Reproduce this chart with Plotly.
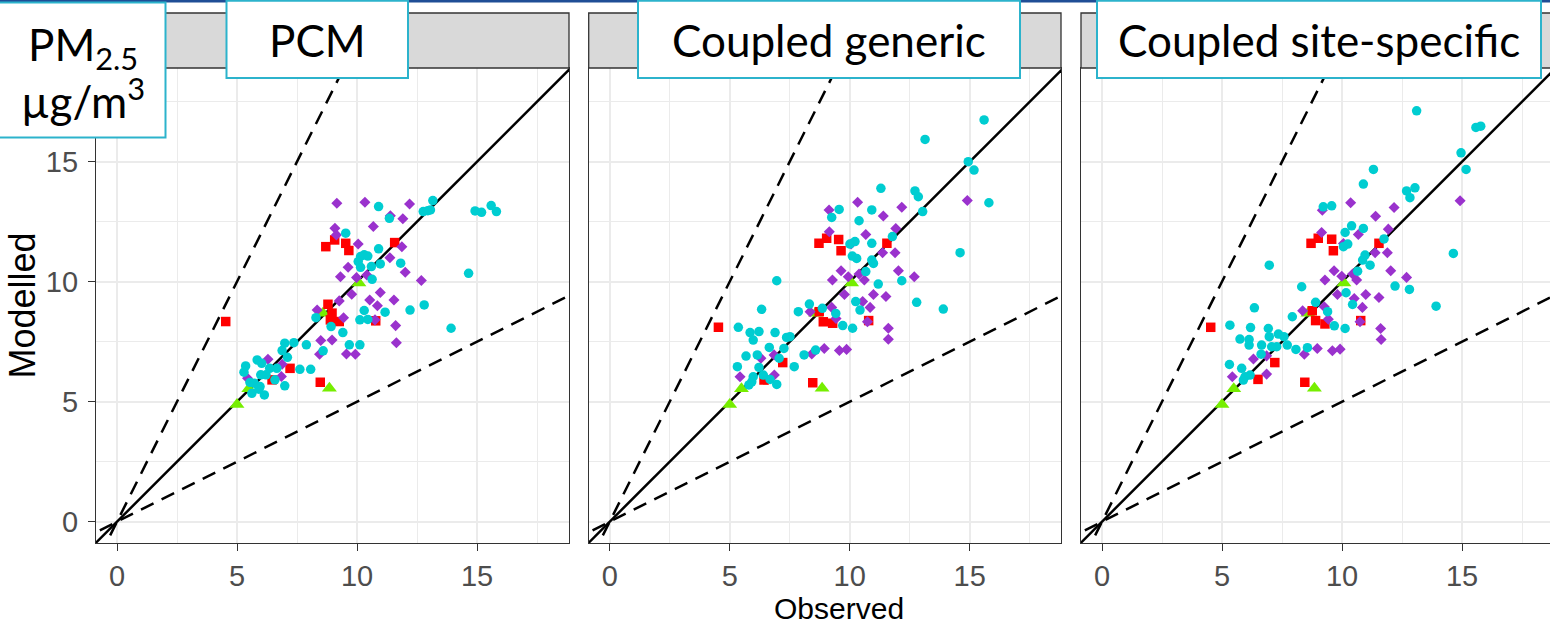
import plotly.graph_objects as go

# ---------------- data ----------------
panels = ["PCM", "Coupled generic", "Coupled site-specific"]
tick_vals = [0, 5, 10, 15]
minor_vals = [2.5, 7.5, 12.5, 17.5]
ratio_slopes = [1, 2, 0.5]          # 1:1, 2:1 and 1:2 reference lines
ref_x = [-5, 30]

green_x = [5.00, 5.49, 8.85, 8.58, 10.08]
green_y = [4.88, 5.54, 5.56, 8.69, 9.95]

red_x_1 = [4.53, 8.70, 9.07, 9.53, 9.66, 11.57, 8.79, 8.96, 8.89, 9.26, 10.78, 7.21, 6.46, 8.47]
red_y_1 = [8.34, 11.46, 11.74, 11.60, 11.30, 11.63, 9.06, 8.69, 8.41, 8.34, 8.37, 6.39, 5.91, 5.81]
red_x_2 = [4.53, 8.72, 9.04, 9.54, 9.64, 11.55, 8.73, 8.90, 9.29, 10.79, 7.21, 6.43, 8.46]
red_y_2 = [8.10, 11.60, 11.81, 11.76, 11.29, 11.60, 8.75, 8.33, 8.27, 8.38, 6.63, 5.90, 5.79]
red_x_3 = [4.53, 8.71, 9.01, 9.57, 9.64, 11.54, 8.76, 8.90, 9.29, 10.78, 7.20, 6.50, 8.45]
red_y_3 = [8.10, 11.60, 11.81, 11.77, 11.29, 11.60, 8.79, 8.38, 8.24, 8.38, 6.63, 5.93, 5.81]

purple_x_1 = [9.16, 10.33, 12.19, 11.39, 11.91, 10.68, 9.08, 9.14, 10.05, 11.87, 11.37, 9.63, 9.31,
              9.98, 10.41, 12.01, 12.68, 9.78, 10.97, 10.53, 11.54, 9.26, 10.85, 8.34, 9.44, 10.75,
              11.61, 8.49, 8.96, 11.64, 8.44, 9.56, 9.93, 6.29, 6.88, 6.85, 5.44]
purple_y_1 = [13.27, 13.31, 13.24, 12.75, 12.62, 12.30, 12.23, 11.95, 11.57, 11.46, 11.00, 10.60, 10.21,
              10.17, 10.28, 10.39, 10.05, 9.48, 9.55, 9.24, 9.24, 9.20, 9.00, 8.82, 8.50, 8.41,
              8.17, 7.55, 7.57, 7.46, 6.98, 6.99, 6.98, 6.77, 6.56, 6.05, 5.98]
purple_x_2 = [10.33, 9.14, 11.40, 12.17, 14.90, 9.15, 10.67, 11.92, 10.06, 11.37, 11.89, 12.03, 12.69,
              9.64, 9.28, 9.94, 10.39, 10.61, 9.78, 10.99, 11.51, 10.54, 10.85, 9.25, 9.43, 10.74,
              11.61, 11.61, 8.35, 8.42, 8.94, 9.57, 9.87, 6.85, 6.30, 6.86, 5.43]
purple_y_2 = [13.31, 12.99, 12.74, 13.10, 13.38, 12.08, 11.97, 12.22, 11.57, 11.21, 11.21, 10.46, 10.21,
              10.46, 10.07, 10.21, 10.32, 10.07, 9.47, 9.47, 9.38, 9.17, 8.93, 8.93, 8.47, 8.33,
              8.06, 7.60, 8.75, 6.99, 7.22, 7.13, 7.18, 6.95, 6.81, 6.11, 6.04]
purple_x_3 = [9.18, 10.36, 12.17, 11.40, 14.92, 9.15, 10.68, 11.93, 10.06, 11.38, 11.89, 12.03, 12.69,
              9.67, 9.29, 9.99, 10.44, 10.61, 9.81, 10.99, 11.54, 10.51, 10.85, 9.26, 9.43, 10.75,
              11.61, 11.63, 8.36, 8.43, 8.97, 9.60, 9.92, 6.86, 6.31, 6.86, 5.43]
purple_y_3 = [12.98, 13.29, 13.09, 12.73, 13.37, 12.05, 11.97, 12.19, 11.59, 11.21, 11.21, 10.46, 10.18,
              10.46, 10.07, 10.23, 10.32, 10.07, 9.47, 9.47, 9.34, 9.30, 8.93, 8.96, 8.44, 8.33,
              8.05, 7.59, 8.79, 6.98, 7.22, 7.12, 7.19, 6.91, 6.78, 6.15, 6.04]

cyan_x_1 = [13.16, 12.76, 12.95, 13.06, 11.35, 10.90, 14.92, 15.19, 15.59, 15.81, 9.53, 10.90, 10.15,
            10.30, 10.45, 10.05, 10.60, 10.15, 10.97, 11.82, 10.63, 14.65, 10.30, 11.17, 12.21, 12.80,
            10.12, 10.45, 13.92, 8.29, 8.92, 9.41, 10.12, 9.68, 7.89, 7.37, 6.99, 6.88, 7.10, 8.59,
            7.62, 8.07, 6.66, 6.36, 5.84, 6.03, 5.36, 5.29, 6.21, 5.99, 5.72, 5.96, 5.62, 6.14,
            6.58, 6.99, 5.91, 5.54]
cyan_y_1 = [13.38, 12.92, 12.96, 12.99, 12.64, 13.13, 12.95, 12.89, 13.17, 12.92, 12.02, 11.37, 11.05,
            11.12, 11.07, 10.84, 10.63, 10.60, 10.74, 10.77, 10.10, 10.35, 8.80, 8.73, 8.82, 9.03,
            8.41, 8.43, 8.06, 8.50, 8.13, 7.88, 7.37, 7.37, 7.37, 7.46, 7.44, 7.13, 6.85, 7.12,
            6.35, 6.35, 6.39, 6.39, 6.74, 6.60, 6.49, 6.23, 6.12, 6.12, 5.77, 5.63, 5.35, 5.28,
            5.91, 5.66, 5.52, 5.80]
cyan_x_2 = [15.60, 13.14, 14.94, 15.18, 15.80, 11.30, 12.72, 12.86, 13.04, 9.56, 9.25, 10.92, 10.39,
            11.78, 10.22, 10.92, 10.01, 10.11, 10.29, 10.92, 10.99, 10.67, 14.60, 11.19, 12.17, 10.25,
            10.43, 12.79, 13.90, 6.96, 9.71, 10.12, 9.42, 8.86, 8.32, 7.86, 6.33, 5.36, 5.85, 6.22,
            5.98, 6.89, 7.51, 7.37, 6.65, 7.26, 5.68, 6.15, 7.06, 8.10, 8.58, 7.69, 5.32, 6.22,
            5.98, 5.80, 6.40, 6.68, 6.96, 5.92]
cyan_y_2 = [16.74, 15.93, 15.00, 14.65, 13.29, 13.89, 13.78, 13.54, 12.92, 13.01, 12.68, 12.99, 12.54,
            11.88, 11.67, 11.60, 11.57, 11.07, 10.97, 10.90, 10.76, 10.42, 11.21, 9.90, 10.04, 9.17,
            8.82, 9.14, 8.86, 10.04, 8.17, 8.06, 8.68, 8.89, 9.07, 8.75, 8.85, 8.10, 7.88, 7.92,
            7.57, 7.88, 7.71, 7.68, 7.26, 7.22, 6.90, 6.95, 6.81, 6.95, 7.15, 6.46, 6.46, 6.43,
            6.04, 5.70, 6.11, 5.93, 5.72, 5.83]
cyan_x_3 = [13.11, 15.58, 15.78, 14.96, 15.17, 14.64, 13.92, 11.31, 10.89, 12.69, 13.04, 12.83, 9.22,
            9.57, 10.40, 10.89, 10.13, 11.75, 10.06, 10.24, 10.96, 10.86, 11.17, 10.65, 6.97, 12.21,
            12.81, 10.17, 10.44, 9.68, 10.13, 8.90, 9.40, 8.32, 7.93, 6.35, 5.33, 6.19, 5.75, 6.13,
            6.13, 6.93, 6.97, 7.35, 7.58, 6.65, 7.28, 7.72, 8.08, 8.56, 7.07, 5.31, 5.82, 5.96,
            6.17, 5.89, 6.63]
cyan_y_3 = [17.12, 16.43, 16.48, 15.37, 14.68, 11.18, 8.98, 14.68, 14.07, 13.78, 13.91, 13.50, 13.12,
            13.16, 12.33, 12.22, 12.05, 11.78, 11.46, 11.57, 11.11, 10.90, 10.69, 10.44, 10.69, 9.82,
            9.68, 9.54, 9.05, 8.16, 8.05, 9.14, 8.75, 9.79, 8.54, 8.91, 8.19, 8.09, 7.61, 7.59,
            7.36, 8.05, 7.71, 7.82, 7.71, 7.36, 7.29, 7.36, 7.18, 7.25, 7.29, 6.55, 6.39, 6.04,
            6.11, 5.90, 6.98]

red_x = [red_x_1, red_x_2, red_x_3]
red_y = [red_y_1, red_y_2, red_y_3]
purple_x = [purple_x_1, purple_x_2, purple_x_3]
purple_y = [purple_y_1, purple_y_2, purple_y_3]
cyan_x = [cyan_x_1, cyan_x_2, cyan_x_3]
cyan_y = [cyan_y_1, cyan_y_2, cyan_y_3]

# ---------------- geometry (pixels) ----------------
W, H = 1550, 627
panel_px = [(96, 569), (588.7, 1061), (1081, 1550)]
plot_top, plot_bot = 68, 543
strip_top = 13
px_per_unit = 24.0
x_lo = -0.875
y_lo = -0.8875
y_hi = y_lo + (plot_bot - plot_top) / px_per_unit


def px_x(p):
    return p / W


def px_y(p):
    return 1 - p / H


GRID = "#EBEBEB"
DARK = "#333333"
TICKC = "#4D4D4D"
BOXLINE = "#2CB3CC"
DASH = "14px,9px"

fig = go.Figure()

for i in range(3):
    xa = "x" if i == 0 else f"x{i+1}"
    ya = "y" if i == 0 else f"y{i+1}"
    for s in ratio_slopes:
        fig.add_trace(go.Scatter(
            x=ref_x, y=[s * v for v in ref_x], mode="lines", xaxis=xa, yaxis=ya,
            line=dict(color="black", width=2.5, dash="solid" if s == 1 else DASH),
            hoverinfo="skip", showlegend=False))
    fig.add_trace(go.Scatter(
        x=green_x, y=green_y, mode="markers", xaxis=xa, yaxis=ya, showlegend=False,
        marker=dict(symbol="triangle-up", size=13, color="#76EE00", line=dict(width=0))))
    fig.add_trace(go.Scatter(
        x=red_x[i], y=red_y[i], mode="markers", xaxis=xa, yaxis=ya, showlegend=False,
        marker=dict(symbol="square", size=9.5, color="#FF0000", line=dict(width=0))))
    fig.add_trace(go.Scatter(
        x=purple_x[i], y=purple_y[i], mode="markers", xaxis=xa, yaxis=ya, showlegend=False,
        marker=dict(symbol="diamond", size=8.5, color="#9A32CD", line=dict(width=0))))
    fig.add_trace(go.Scatter(
        x=cyan_x[i], y=cyan_y[i], mode="markers", xaxis=xa, yaxis=ya, showlegend=False,
        marker=dict(symbol="circle", size=9.5, color="#00CDD1", line=dict(width=0))))

TICKFONT = dict(family="Liberation Sans", size=29, color=TICKC)
layout_axes = {}
for i in range(3):
    l, r = panel_px[i]
    x_hi = x_lo + (r - l) / px_per_unit
    xkey = "xaxis" if i == 0 else f"xaxis{i+1}"
    ykey = "yaxis" if i == 0 else f"yaxis{i+1}"
    layout_axes[xkey] = dict(
        domain=[px_x(l), px_x(r)], range=[x_lo, x_hi], anchor="y" if i == 0 else f"y{i+1}",
        tickmode="array", tickvals=tick_vals, ticks="outside", ticklen=7, tickwidth=1.3,
        tickcolor=DARK, showline=True, linecolor=DARK, linewidth=1.3, mirror=True,
        showgrid=True, gridcolor=GRID, gridwidth=2, zeroline=False, ticklabelstandoff=0,
        minor=dict(tickvals=minor_vals, showgrid=True, gridcolor=GRID, gridwidth=1, ticks=""),
        tickfont=TICKFONT, fixedrange=True)
    layout_axes[ykey] = dict(
        domain=[px_y(plot_bot), px_y(plot_top)], range=[y_lo, y_hi],
        anchor="x" if i == 0 else f"x{i+1}",
        tickmode="array", tickvals=tick_vals, ticks="outside" if i == 0 else "",
        ticklen=7, tickwidth=1.3, tickcolor=DARK, showticklabels=(i == 0),
        showline=True, linecolor=DARK, linewidth=1.3, mirror=(i < 2),
        showgrid=True, gridcolor=GRID, gridwidth=2, zeroline=False, ticklabelstandoff=4,
        minor=dict(tickvals=minor_vals, showgrid=True, gridcolor=GRID, gridwidth=1, ticks=""),
        tickfont=TICKFONT, fixedrange=True)

shapes = []
# slide header line
shapes.append(dict(type="rect", xref="paper", yref="paper", x0=0, x1=1,
                   y0=px_y(2.5), y1=1, fillcolor="#1F4E96", line=dict(width=0), layer="above"))
# strips
for i in range(3):
    l, r = panel_px[i]
    shapes.append(dict(type="rect", xref="paper", yref="paper", x0=px_x(l), x1=px_x(r + (8 if i == 2 else 0)),
                       y0=px_y(plot_top), y1=px_y(strip_top), fillcolor="#D9D9D9",
                       line=dict(color=DARK, width=1.3), layer="above"))
# white labelled boxes
boxes = [(-2, 165.5, 2.5, 137.5), (226.5, 408, 0.8, 78), (638, 1020, 0.8, 78), (1097, 1541, 0.8, 78)]
for (x0, x1, y0, y1) in boxes:
    shapes.append(dict(type="rect", xref="paper", yref="paper", x0=px_x(x0), x1=px_x(x1),
                       y0=px_y(y1), y1=px_y(y0), fillcolor="white",
                       line=dict(color=BOXLINE, width=2), layer="above"))

BOXFONT = dict(family="Lato", size=44, color="black")
annotations = []
for i, name in enumerate(panels):
    x0, x1, y0, y1 = boxes[i + 1]
    annotations.append(dict(text=name, xref="paper", yref="paper", x=px_x((x0 + x1) / 2),
                            y=px_y((y0 + y1) / 2 + 1), xanchor="center", yanchor="middle",
                            showarrow=False, font=BOXFONT))
annotations.append(dict(text="PM<sub>2.5</sub><br>µg/m<sup>3</sup>", xref="paper", yref="paper",
                        x=px_x(83), y=px_y(72), xanchor="center", yanchor="middle",
                        showarrow=False, font=BOXFONT, align="center"))
annotations.append(dict(text="Modelled", xref="paper", yref="paper", x=px_x(22), y=px_y(305.5),
                        xanchor="center", yanchor="middle", textangle=-90, showarrow=False,
                        font=dict(family="Liberation Sans", size=36, color="black")))
annotations.append(dict(text="Observed", xref="paper", yref="paper", x=px_x(839), y=px_y(608),
                        xanchor="center", yanchor="middle", showarrow=False,
                        font=dict(family="Liberation Sans", size=30, color="black")))

fig.update_layout(width=W, height=H, margin=dict(l=0, r=0, t=0, b=0),
                  paper_bgcolor="white", plot_bgcolor="white", showlegend=False,
                  shapes=shapes, annotations=annotations, **layout_axes)

fig.write_html("out.html", config={"displayModeBar": False},
               post_script="document.body.style.margin='0px';")
